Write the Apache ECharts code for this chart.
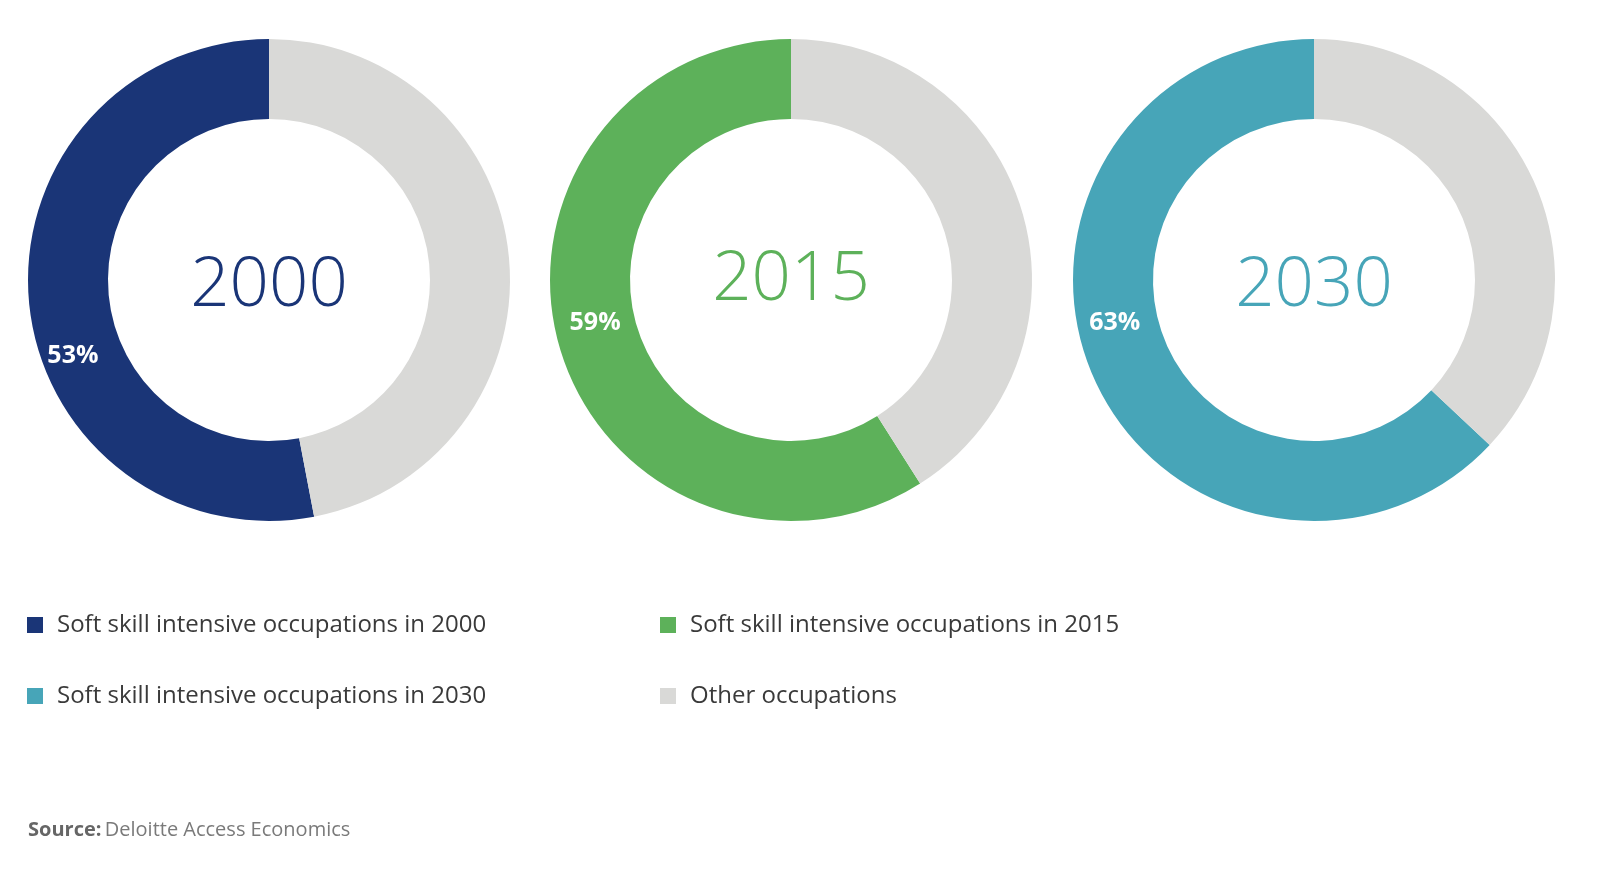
<!DOCTYPE html>
<html>
<head>
<meta charset="utf-8">
<script src="https://cdn.jsdelivr.net/npm/echarts@6/dist/echarts.min.js"></script>
<style>
html,body{margin:0;padding:0;background:#fff;}
#chart{width:1600px;height:876px;}
</style>
</head>
<body>
<div id="chart"></div>
<script>
// ---- data ----
var years = ['2000', '2015', '2030'];
var softShare = [53, 59, 63];
var otherShare = [47, 41, 37];
var softNames = ['Soft skill intensive occupations in 2000', 'Soft skill intensive occupations in 2015', 'Soft skill intensive occupations in 2030'];
var otherName = 'Other occupations';

// ---- styles ----
var softColors = ['#1a3577', '#5db15a', '#47a5b8'];
var otherColor = '#d9d9d7';
var centersX = [269, 791, 1314];
var centerY = 280;
var yearLabelY = [286, 280, 286];
var labelOffsets = [[7, 57], [0, -14], [-12, -38]];

var chart = echarts.init(document.getElementById('chart'));

var series = years.map(function (y, i) {
  return {
    type: 'pie',
    name: y,
    center: [centersX[i], centerY],
    radius: [161, 241],
    startAngle: 90,
    clockwise: false,
    animation: false,
    silent: true,
    emphasis: { scale: false },
    labelLine: { show: false },
    data: [
      {
        name: softNames[i], value: softShare[i],
        itemStyle: { color: softColors[i] },
        label: {
          show: true, position: 'inside', rotate: 0,
          formatter: '{c}%', color: '#fff',
          fontFamily: 'Open Sans', fontWeight: 'bold', fontSize: 25,
          offset: labelOffsets[i]
        }
      },
      {
        name: otherName, value: otherShare[i],
        itemStyle: { color: otherColor },
        label: { show: false }
      }
    ]
  };
});

var legendPos = [[27, 610], [660, 610], [27, 681], [660, 681]];
var legendNames = [softNames[0], softNames[1], softNames[2], otherName];
var legends = legendNames.map(function (n, i) {
  return {
    data: [n],
    left: legendPos[i][0],
    top: legendPos[i][1],
    padding: 0,
    icon: 'rect',
    itemWidth: 16,
    itemHeight: 16,
    selectedMode: false,
    textStyle: {
      fontFamily: 'Open Sans', fontSize: 24, color: '#3a3a3a',
      lineHeight: 30, padding: [0, 0, 0, 9]
    }
  };
});

var graphics = years.map(function (y, i) {
  return {
    type: 'text',
    x: centersX[i],
    y: yearLabelY[i],
    style: {
      text: y,
      fill: softColors[i],
      font: '300 69px "Open Sans"',
      textAlign: 'center',
      textVerticalAlign: 'middle'
    }
  };
});
graphics.push({
  type: 'text',
  x: 28,
  y: 830,
  style: {
    text: '{b|Source:} {r|Deloitte Access Economics}',
    textVerticalAlign: 'middle',
    rich: {
      b: { fontFamily: 'Open Sans', fontWeight: 'bold', fontSize: 20, fill: '#666666', color: '#666666' },
      r: { fontFamily: 'Open Sans', fontSize: 20, fill: '#7a7a7a', color: '#7a7a7a' }
    }
  }
});

chart.setOption({
  animation: false,
  backgroundColor: '#ffffff',
  legend: legends,
  series: series,
  graphic: graphics
});
</script>
</body>
</html>
